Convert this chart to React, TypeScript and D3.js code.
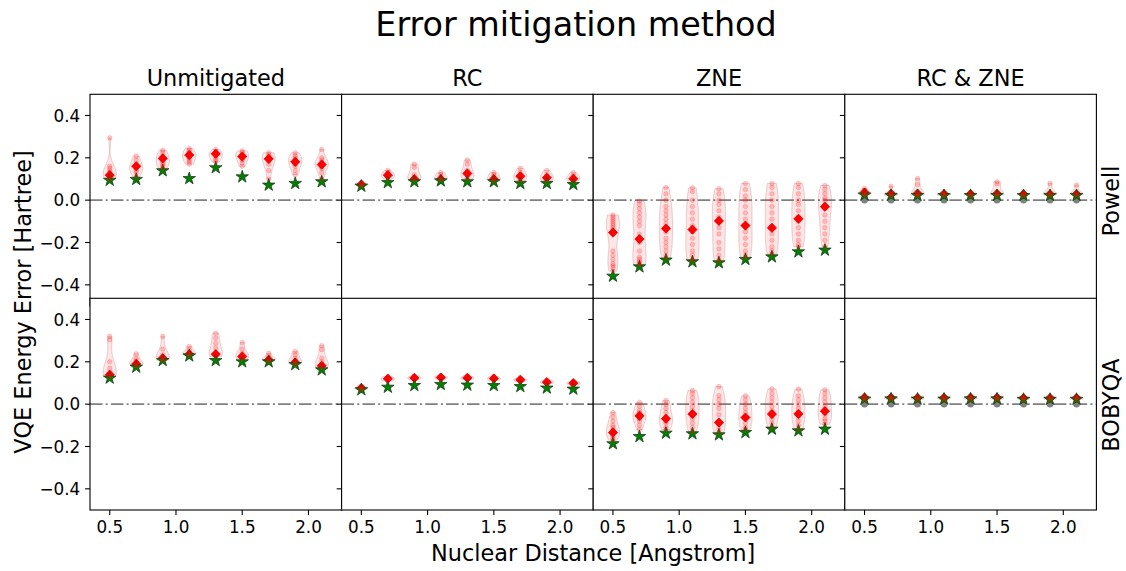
import React from "react";
import * as d3 from "d3";

const distances = [0.5, 0.7, 0.9, 1.1, 1.3, 1.5, 1.7, 1.9, 2.1];
const methodTitles = ["Unmitigated", "RC", "ZNE", "RC & ZNE"];
const optimizerLabels = ["Powell", "BOBYQA"];
const yTickValues = [-0.4, -0.2, 0, 0.2, 0.4];
const xTickValues = [0.5, 1.0, 1.5, 2.0];

// ---------- Powell ----------
const powellUnmitigatedRuns = [
  [0.294, 0.16, 0.15, 0.14, 0.13, 0.12, 0.115, 0.11, 0.105, 0.1],
  [0.208, 0.19, 0.17, 0.16, 0.15, 0.14, 0.13, 0.11],
  [0.236, 0.225, 0.21, 0.2, 0.19, 0.18, 0.17, 0.16, 0.15],
  [0.244, 0.235, 0.225, 0.215, 0.21, 0.2, 0.19, 0.18, 0.17],
  [0.239, 0.23, 0.22, 0.215, 0.21, 0.2, 0.19, 0.18],
  [0.233, 0.225, 0.215, 0.21, 0.2, 0.19, 0.175, 0.16],
  [0.224, 0.215, 0.205, 0.195, 0.185, 0.17, 0.14, 0.1],
  [0.224, 0.21, 0.2, 0.19, 0.18, 0.17, 0.16, 0.14, 0.12],
  [0.239, 0.2, 0.19, 0.18, 0.17, 0.165, 0.16, 0.15, 0.13, 0.1],
];
const powellUnmitigatedMean = [0.118, 0.16, 0.197, 0.213, 0.219, 0.206, 0.195, 0.181, 0.168];
const powellUnmitigatedBest = [0.094, 0.098, 0.139, 0.102, 0.153, 0.11, 0.071, 0.079, 0.087];

const powellRcRuns = [
  [0.082, 0.078, 0.075, 0.072, 0.07],
  [0.14, 0.13, 0.12, 0.115, 0.11, 0.1],
  [0.17, 0.155, 0.12, 0.11, 0.1, 0.095],
  [0.13, 0.12, 0.105, 0.1, 0.095],
  [0.19, 0.17, 0.14, 0.13, 0.12, 0.11, 0.1],
  [0.13, 0.12, 0.11, 0.1, 0.095, 0.09],
  [0.15, 0.13, 0.12, 0.11, 0.1, 0.09],
  [0.14, 0.12, 0.11, 0.1, 0.09],
  [0.13, 0.115, 0.105, 0.1, 0.09],
];
const powellRcMean = [0.074, 0.118, 0.099, 0.099, 0.126, 0.099, 0.113, 0.106, 0.101];
const powellRcBest = [0.066, 0.083, 0.087, 0.091, 0.087, 0.087, 0.079, 0.079, 0.074];

const powellZneRuns = [
  [-0.07, -0.08, -0.09, -0.1, -0.11, -0.12, -0.13, -0.14, -0.16, -0.24, -0.26, -0.28, -0.3, -0.31, -0.32, -0.335],
  [-0.005, -0.02, -0.04, -0.06, -0.08, -0.1, -0.12, -0.16, -0.2, -0.24, -0.27, -0.28, -0.29, -0.3, -0.305],
  [0.06, 0.03, 0.0, -0.03, -0.05, -0.07, -0.09, -0.11, -0.13, -0.15, -0.18, -0.2, -0.22, -0.24, -0.26, -0.275],
  [0.058, 0.04, 0.0, -0.03, -0.06, -0.09, -0.12, -0.15, -0.18, -0.21, -0.24, -0.26, -0.28, -0.287],
  [0.054, 0.03, 0.0, -0.02, -0.05, -0.08, -0.1, -0.13, -0.16, -0.2, -0.23, -0.26, -0.28, -0.29],
  [0.079, 0.05, 0.02, 0.0, -0.03, -0.06, -0.09, -0.12, -0.15, -0.18, -0.21, -0.24, -0.26, -0.272],
  [0.079, 0.06, 0.03, 0.0, -0.03, -0.06, -0.09, -0.12, -0.16, -0.19, -0.22, -0.24, -0.255],
  [0.079, 0.06, 0.03, 0.0, -0.02, -0.05, -0.08, -0.1, -0.13, -0.16, -0.19, -0.21, -0.22],
  [0.069, 0.05, 0.03, 0.01, 0.0, -0.02, -0.04, -0.07, -0.1, -0.13, -0.16, -0.19, -0.22],
];
const powellZneMean = [-0.153, -0.184, -0.134, -0.139, -0.098, -0.12, -0.131, -0.088, -0.031];
const powellZneBest = [-0.359, -0.315, -0.283, -0.291, -0.296, -0.28, -0.268, -0.244, -0.236];

const powellRcZneRuns = [
  [0.055, 0.045, 0.04, 0.035, 0.03, 0.028, 0.025],
  [0.066, 0.03, 0.028, 0.026, 0.025, 0.024],
  [0.102, 0.074, 0.03, 0.028, 0.026, 0.025, 0.024],
  [0.035, 0.03, 0.028, 0.026, 0.025],
  [0.035, 0.03, 0.028, 0.026, 0.025],
  [0.087, 0.076, 0.03, 0.028, 0.026, 0.025],
  [0.033, 0.03, 0.028, 0.026, 0.025],
  [0.079, 0.03, 0.028, 0.026, 0.025],
  [0.071, 0.03, 0.028, 0.026, 0.025],
];
const powellRcZneMean = [0.036, 0.03, 0.031, 0.029, 0.029, 0.03, 0.028, 0.028, 0.028];
const powellRcZneBest = [0.024, 0.022, 0.022, 0.022, 0.022, 0.022, 0.022, 0.022, 0.022];

// ---------- BOBYQA ----------
const bobyqaUnmitigatedRuns = [
  [0.32, 0.304, 0.2, 0.17, 0.15, 0.146, 0.14, 0.135, 0.13],
  [0.238, 0.217, 0.205, 0.195, 0.19, 0.186, 0.18],
  [0.32, 0.26, 0.233, 0.22, 0.217, 0.212, 0.208],
  [0.272, 0.257, 0.245, 0.238, 0.235, 0.232],
  [0.335, 0.312, 0.288, 0.265, 0.24, 0.235, 0.23, 0.225],
  [0.291, 0.26, 0.24, 0.23, 0.225, 0.22, 0.215],
  [0.24, 0.225, 0.215, 0.21, 0.207, 0.204],
  [0.249, 0.233, 0.217, 0.205, 0.198, 0.195, 0.19],
  [0.276, 0.257, 0.217, 0.2, 0.19, 0.183, 0.178, 0.172],
];
const bobyqaUnmitigatedMean = [0.139, 0.19, 0.217, 0.236, 0.236, 0.225, 0.209, 0.197, 0.181];
const bobyqaUnmitigatedBest = [0.123, 0.175, 0.206, 0.228, 0.206, 0.2, 0.2, 0.187, 0.162];

const bobyqaRcRuns = [
  [0.085, 0.08, 0.076, 0.072, 0.07],
  [0.13, 0.125, 0.12, 0.115, 0.11],
  [0.133, 0.128, 0.124, 0.12, 0.115],
  [0.135, 0.13, 0.126, 0.122, 0.118],
  [0.134, 0.128, 0.124, 0.12, 0.116],
  [0.131, 0.126, 0.121, 0.117, 0.113],
  [0.124, 0.119, 0.115, 0.111, 0.107],
  [0.113, 0.108, 0.104, 0.1, 0.096],
  [0.108, 0.103, 0.099, 0.095, 0.091],
];
const bobyqaRcMean = [0.076, 0.12, 0.124, 0.126, 0.124, 0.121, 0.115, 0.104, 0.099];
const bobyqaRcBest = [0.068, 0.08, 0.088, 0.093, 0.09, 0.088, 0.083, 0.076, 0.071];

const bobyqaZneRuns = [
  [-0.04, -0.06, -0.08, -0.1, -0.11, -0.12, -0.13, -0.14, -0.15, -0.16, -0.17],
  [0.008, -0.01, -0.03, -0.04, -0.05, -0.06, -0.07, -0.08, -0.1, -0.12],
  [0.017, 0.0, -0.02, -0.04, -0.06, -0.07, -0.08, -0.09, -0.11, -0.12],
  [0.065, 0.05, 0.03, 0.01, -0.01, -0.03, -0.05, -0.07, -0.09, -0.11, -0.13],
  [0.083, 0.04, 0.02, 0.0, -0.02, -0.05, -0.08, -0.1, -0.12, -0.135],
  [0.039, 0.02, 0.0, -0.02, -0.04, -0.06, -0.07, -0.09, -0.11, -0.12],
  [0.072, 0.05, 0.03, 0.01, -0.01, -0.03, -0.05, -0.07, -0.09, -0.11],
  [0.071, 0.04, 0.02, 0.0, -0.02, -0.04, -0.06, -0.08, -0.1, -0.12],
  [0.068, 0.05, 0.03, 0.01, -0.01, -0.03, -0.05, -0.07, -0.08, -0.095],
];
const bobyqaZneMean = [-0.134, -0.055, -0.069, -0.047, -0.087, -0.063, -0.047, -0.046, -0.033];
const bobyqaZneBest = [-0.187, -0.153, -0.137, -0.14, -0.145, -0.134, -0.118, -0.126, -0.118];

const bobyqaRcZneRuns = [
  [0.036, 0.032, 0.029, 0.026, 0.024],
  [0.036, 0.032, 0.029, 0.026, 0.024],
  [0.035, 0.031, 0.028, 0.026, 0.024],
  [0.035, 0.031, 0.028, 0.026, 0.024],
  [0.036, 0.032, 0.029, 0.026, 0.024],
  [0.036, 0.032, 0.029, 0.026, 0.024],
  [0.034, 0.031, 0.028, 0.026, 0.024],
  [0.034, 0.031, 0.028, 0.026, 0.024],
  [0.034, 0.031, 0.028, 0.026, 0.024],
];
const bobyqaRcZneMean = [0.031, 0.031, 0.03, 0.03, 0.031, 0.031, 0.029, 0.029, 0.029];
const bobyqaRcZneBest = [0.024, 0.025, 0.024, 0.024, 0.025, 0.025, 0.023, 0.023, 0.023];

// reference points shown in the RC & ZNE column
const rcZneReference = [0, 0, 0, 0, 0, 0, 0, 0, 0];

type Panel = { runs: number[][]; mean: number[]; best: number[]; ref?: number[] };
const panelGrid: Panel[][] = [
  [
    { runs: powellUnmitigatedRuns, mean: powellUnmitigatedMean, best: powellUnmitigatedBest },
    { runs: powellRcRuns, mean: powellRcMean, best: powellRcBest },
    { runs: powellZneRuns, mean: powellZneMean, best: powellZneBest },
    { runs: powellRcZneRuns, mean: powellRcZneMean, best: powellRcZneBest, ref: rcZneReference },
  ],
  [
    { runs: bobyqaUnmitigatedRuns, mean: bobyqaUnmitigatedMean, best: bobyqaUnmitigatedBest },
    { runs: bobyqaRcRuns, mean: bobyqaRcMean, best: bobyqaRcBest },
    { runs: bobyqaZneRuns, mean: bobyqaZneMean, best: bobyqaZneBest },
    { runs: bobyqaRcZneRuns, mean: bobyqaRcZneMean, best: bobyqaRcZneBest, ref: rcZneReference },
  ],
];

const FONT = "DejaVu Sans, sans-serif";
const W = 1126;
const H = 571;
const plotLeft = 90;
const plotRight = 1096.4;
const colW = (plotRight - plotLeft) / 4;
const unitPx = 211.7;
const rowTops = [94.3, 298.3];
const clipBottoms = [298.3, 510];
const tickLen = 4.9;
const violinHalf = 0.05;

const starSym = d3.symbol().type(d3.symbolStar).size(48)() as string;
const diamondSym = d3.symbol().type(d3.symbolSquare).size(42)() as string;

function violinPath(samples: number[], xc: number, xs: d3.ScaleLinear<number, number>, ys: d3.ScaleLinear<number, number>) {
  const n = samples.length;
  const sd = d3.deviation(samples) || 0.002;
  const bw = Math.max(sd * Math.pow(n, -1 / 5), 0.002);
  const lo = d3.min(samples)!;
  const hi = d3.max(samples)!;
  const grid = d3.range(100).map((i) => lo + ((hi - lo) * i) / 99);
  const dens = grid.map((p) => d3.sum(samples, (s) => Math.exp(-0.5 * ((p - s) / bw) ** 2)));
  const maxD = d3.max(dens)!;
  const pts = grid.map((p, i) => ({ y: p, w: (violinHalf * dens[i]) / maxD }));
  return d3
    .area<{ y: number; w: number }>()
    .y((d) => ys(d.y))
    .x0((d) => xs(xc - d.w))
    .x1((d) => xs(xc + d.w))(pts) as string;
}

function PanelView({ r, c, panel }: { r: number; c: number; panel: Panel }) {
  const left = plotLeft + c * colW;
  const top = rowTops[r];
  const xs = d3.scaleLinear().domain([0.351, 2.25]).range([left, left + colW]);
  const ys = d3.scaleLinear().domain([-0.5, 0.5]).range([top + unitPx, top]);
  const clipId = `clip-${r}-${c}`;
  const clipH = clipBottoms[r] - top;
  return (
    <g>
      <defs>
        <clipPath id={clipId}>
          <rect x={left} y={top} width={colW} height={clipH} />
        </clipPath>
      </defs>
      <rect x={left} y={top} width={colW} height={unitPx} fill="#fff" />
      <g clipPath={`url(#${clipId})`}>
        <line
          x1={left}
          x2={left + colW}
          y1={ys(0)}
          y2={ys(0)}
          stroke="#808080"
          strokeWidth={1.6}
          strokeDasharray="12.5,3.2,2,3.2"
        />
        {panel.runs.map((s, i) => (
          <path
            key={`v${i}`}
            d={violinPath(s, distances[i], xs, ys)}
            fill="rgba(255,0,0,0.1)"
            stroke="rgba(160,90,90,0.25)"
            strokeWidth={1}
          />
        ))}
        {panel.ref &&
          panel.ref.map((v, i) => (
            <circle key={`g${i}`} cx={xs(distances[i])} cy={ys(v)} r={3.3} fill="#808080" />
          ))}
        {panel.mean.map((v, i) => (
          <path
            key={`m${i}`}
            d={diamondSym}
            transform={`translate(${xs(distances[i])},${ys(v)}) rotate(45)`}
            fill="#ff0000"
            stroke="#e00000"
            strokeWidth={0.8}
          />
        ))}
        {panel.best.map((v, i) => (
          <path
            key={`b${i}`}
            d={starSym}
            transform={`translate(${xs(distances[i])},${ys(v)})`}
            fill="#008000"
            stroke="#1d3d1d"
            strokeWidth={0.8}
          />
        ))}
        {panel.runs.map((s, i) =>
          s.map((v, j) => (
            <circle
              key={`p${i}-${j}`}
              cx={xs(distances[i])}
              cy={ys(v)}
              r={2.3}
              fill="rgba(255,0,0,0.2)"
              stroke="rgba(255,0,0,0.2)"
              strokeWidth={0.8}
            />
          ))
        )}
      </g>
      <rect x={left} y={top} width={colW} height={r === 0 ? unitPx : clipH} fill="none" stroke="#000" strokeWidth={1.1} />
      {yTickValues.map((t) => (
        <g key={`yt${t}`}>
          <line x1={left - tickLen} x2={left} y1={ys(t)} y2={ys(t)} stroke="#000" strokeWidth={1.1} />
          {c === 0 && (
            <text
              x={left - tickLen - 4.9}
              y={ys(t)}
              dy="0.36em"
              textAnchor="end"
              fontFamily={FONT}
              fontSize={16.8}
              fill="#000"
            >
              {t < 0 ? `\u2212${Math.abs(t).toFixed(1)}` : t.toFixed(1)}
            </text>
          )}
        </g>
      ))}
      {r === 1 &&
        xTickValues.map((t) => (
          <g key={`xt${t}`}>
            <line x1={xs(t)} x2={xs(t)} y1={510} y2={510 + tickLen} stroke="#000" strokeWidth={1.1} />
            <text x={xs(t)} y={533} textAnchor="middle" fontFamily={FONT} fontSize={16.8} fill="#000">
              {t.toFixed(1)}
            </text>
          </g>
        ))}
    </g>
  );
}

export default function App() {
  return (
    <svg
      width={W}
      height={H}
      viewBox={`0 0 ${W} ${H}`}
      style={{ position: "absolute", left: 0, top: 0, background: "#fff" }}
    >
      <rect x={0} y={0} width={W} height={H} fill="#fff" />
      <text x={576} y={36} textAnchor="middle" fontFamily={FONT} fontSize={33.4} fill="#000">
        Error mitigation method
      </text>
      {methodTitles.map((t, c) => (
        <text
          key={t}
          x={plotLeft + c * colW + colW / 2}
          y={86}
          textAnchor="middle"
          fontFamily={FONT}
          fontSize={22.4}
          fill="#000"
        >
          {t}
        </text>
      ))}
      {panelGrid.map((row, r) => row.map((p, c) => <PanelView key={`${r}-${c}`} r={r} c={c} panel={p} />))}
      {optimizerLabels.map((lab, r) => {
        const cy = r === 0 ? 201 : 405;
        return (
          <text
            key={lab}
            transform={`translate(1119,${cy}) rotate(-90)`}
            textAnchor="middle"
            fontFamily={FONT}
            fontSize={22.4}
            fill="#000"
          >
            {lab}
          </text>
        );
      })}
      <text
        transform={`translate(31,302) rotate(-90)`}
        textAnchor="middle"
        fontFamily={FONT}
        fontSize={22.4}
        fill="#000"
      >
        VQE Energy Error [Hartree]
      </text>
      <text x={(plotLeft + plotRight) / 2} y={561} textAnchor="middle" fontFamily={FONT} fontSize={22.4} fill="#000">
        Nuclear Distance [Angstrom]
      </text>
    </svg>
  );
}
